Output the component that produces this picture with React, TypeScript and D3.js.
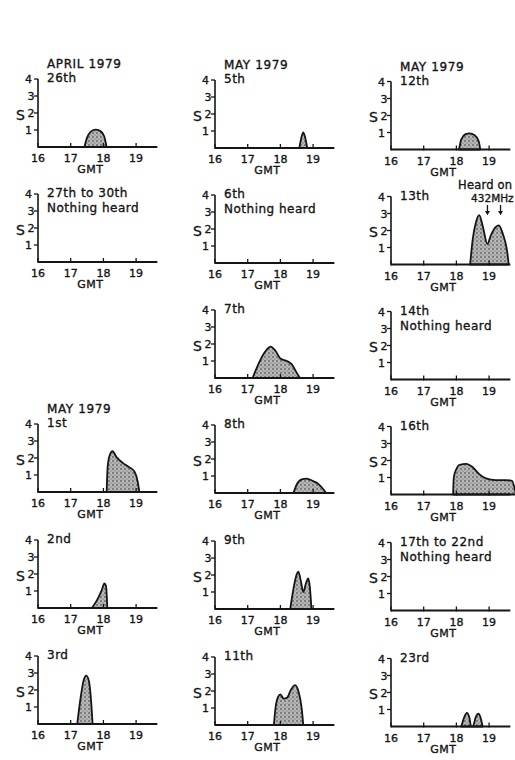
import React from "react";
import * as d3 from "d3";

// ---- data: S-meter readings (hour GMT, S units) ----
const hourTicks = [16, 17, 18, 19];
const sTicks = [1, 2, 3, 4];

const apr26: [number, number][] = [[17.42,0],[17.5,0.55],[17.6,0.88],[17.75,1.02],[17.9,0.95],[18.02,0.65],[18.1,0]];
const may01: [number, number][] = [[18.1,0],[18.13,1.5],[18.2,2.2],[18.28,2.4],[18.4,2.05],[18.6,1.7],[18.8,1.45],[18.95,1.2],[19.05,0.6],[19.1,0]];
const may02: [number, number][] = [[17.65,0],[17.8,0.45],[17.95,1.05],[18.03,1.45],[18.08,1.3],[18.12,0]];
const may03: [number, number][] = [[17.2,0],[17.3,1.5],[17.4,2.6],[17.48,2.85],[17.56,2.5],[17.63,1.2],[17.67,0]];
const may05: [number, number][] = [[18.58,0],[18.64,0.6],[18.7,0.92],[18.76,0.6],[18.82,0]];
const may07: [number, number][] = [[17.15,0],[17.3,0.7],[17.5,1.45],[17.7,1.85],[17.85,1.6],[18.0,1.15],[18.2,1.0],[18.35,0.8],[18.5,0.3],[18.6,0]];
const may08: [number, number][] = [[18.4,0],[18.5,0.5],[18.65,0.8],[18.8,0.85],[19.0,0.7],[19.15,0.55],[19.3,0.25],[19.4,0]];
const may09: [number, number][] = [[18.3,0],[18.4,1.2],[18.5,2.05],[18.55,2.2],[18.62,1.7],[18.7,1.0],[18.78,1.5],[18.85,1.8],[18.9,1.3],[18.95,0]];
const may11: [number, number][] = [[17.8,0],[17.85,1.0],[17.93,1.65],[18.0,1.8],[18.1,1.55],[18.2,1.6],[18.33,2.1],[18.45,2.35],[18.55,2.0],[18.65,1.0],[18.7,0]];
const may12: [number, number][] = [[18.08,0],[18.15,0.6],[18.28,0.9],[18.4,0.95],[18.55,0.85],[18.68,0.5],[18.73,0]];
const may13: [number, number][] = [[18.42,0],[18.5,1.5],[18.6,2.5],[18.7,2.9],[18.8,2.3],[18.95,1.2],[19.05,1.7],[19.2,2.2],[19.3,2.3],[19.42,1.8],[19.55,0.8],[19.6,0]];
const may16: [number, number][] = [[17.9,0],[17.92,1.0],[18.0,1.5],[18.1,1.75],[18.3,1.8],[18.5,1.6],[18.7,1.2],[18.9,0.95],[19.2,0.85],[19.5,0.85],[19.7,0.8],[19.82,0]];
const may23: [number, number][] = [[18.15,0],[18.25,0.6],[18.32,0.8],[18.4,0.5],[18.45,0],[18.5,0],[18.6,0.6],[18.67,0.75],[18.75,0.45],[18.8,0]];

const arrowHours = [18.95, 19.35];

type Panel = { col: number; row: number; header?: string; day: string; note?: string; data?: [number, number][]; extra?: boolean };

const panels: Panel[] = [
  { col: 0, row: 0, header: "APRIL 1979", day: "26th", data: apr26 },
  { col: 0, row: 1, day: "27th to 30th", note: "Nothing heard" },
  { col: 0, row: 3, header: "MAY 1979", day: "1st", data: may01 },
  { col: 0, row: 4, day: "2nd", data: may02 },
  { col: 0, row: 5, day: "3rd", data: may03 },
  { col: 1, row: 0, header: "MAY 1979", day: "5th", data: may05 },
  { col: 1, row: 1, day: "6th", note: "Nothing heard" },
  { col: 1, row: 2, day: "7th", data: may07 },
  { col: 1, row: 3, day: "8th", data: may08 },
  { col: 1, row: 4, day: "9th", data: may09 },
  { col: 1, row: 5, day: "11th", data: may11 },
  { col: 2, row: 0, header: "MAY 1979", day: "12th", data: may12 },
  { col: 2, row: 1, day: "13th", data: may13, extra: true },
  { col: 2, row: 2, day: "14th", note: "Nothing heard" },
  { col: 2, row: 3, day: "16th", data: may16 },
  { col: 2, row: 4, day: "17th to 22nd", note: "Nothing heard" },
  { col: 2, row: 5, day: "23rd", data: may23 },
];

// ---- layout ----
const colX = [38, 215, 391];
const colDy = [-1, 0, 1.5];
const rowY = [148, 263, 378, 493, 609, 725];
const pxPerHour = 32.7;
const xMax = 19.65;
const plotH = 68;
const ink = "#151515";
const font = "'DejaVu Sans', sans-serif";
const heavy = { stroke: ink, strokeWidth: 0.35 };

function PanelView({ p }: { p: Panel }) {
  const ox = colX[p.col];
  const base = rowY[p.row] + colDy[p.col];
  const x = d3.scaleLinear().domain([16, xMax]).range([ox, ox + (xMax - 16) * pxPerHour]);
  const y = d3.scaleLinear().domain([0, 4]).range([base, base - plotH]);
  const area = d3
    .area<[number, number]>()
    .x((d) => x(d[0]))
    .y0(y(0))
    .y1((d) => y(d[1]))
    .curve(d3.curveMonotoneX);
  const top = y(4);
  const tx = ox + 9;
  return (
    <g>
      {p.data && (
        <path d={area(p.data) || ""} fill="url(#stip)" stroke={ink} strokeWidth={1.8} strokeLinejoin="round" />
      )}
      {/* y axis */}
      <line x1={ox} x2={ox} y1={base} y2={top} stroke={ink} strokeWidth={1.6} />
      {sTicks.map((t) => (
        <g key={t}>
          <line x1={ox - 4} x2={ox} y1={y(t)} y2={y(t)} stroke={ink} strokeWidth={1.3} />
          <text
            x={t === 2 || t === 3 ? ox - 3.5 : ox - 6}
            y={y(t) + 4}
            textAnchor="end"
            fontSize={11}
            fontFamily={font}
            fill={ink}
            {...heavy}
          >
            {t}
          </text>
        </g>
      ))}
      <text x={ox - 13} y={y(1.5) - 2} textAnchor="end" fontSize={14} fontFamily={font} fill={ink} {...heavy}>
        S
      </text>
      {/* x axis */}
      <line x1={ox} x2={x(xMax)} y1={base} y2={base} stroke={ink} strokeWidth={2} />
      {hourTicks.map((h) => (
        <g key={h}>
          <line x1={x(h)} x2={x(h)} y1={base + 1} y2={base - 4} stroke={ink} strokeWidth={1.3} />
          <text x={x(h)} y={base + 15} textAnchor="middle" fontSize={11} fontFamily={font} fill={ink} {...heavy}>
            {h}
          </text>
        </g>
      ))}
      <text x={x(17.6)} y={base + 26} textAnchor="middle" fontSize={11} fontFamily={font} fill={ink} letterSpacing={0.5} {...heavy}>
        GMT
      </text>
      {/* titles */}
      {p.header && (
        <text x={tx} y={top - 11} fontSize={12} fontFamily={font} fill={ink} letterSpacing={0.6} {...heavy}>
          {p.header}
        </text>
      )}
      <text x={tx} y={top + 3} fontSize={12} fontFamily={font} fill={ink} letterSpacing={0.5} {...heavy}>
        {p.day}
      </text>
      {p.note && (
        <text x={tx} y={top + 18} fontSize={12} fontFamily={font} fill={ink} letterSpacing={0.5} {...heavy}>
          {p.note}
        </text>
      )}
      {p.extra && (
        <g>
          <text x={x(18.05)} y={y(4.45)} fontSize={11.5} fontFamily={font} fill={ink} letterSpacing={0.2} {...heavy}>
            Heard on
          </text>
          <text x={x(18.45)} y={y(3.68)} fontSize={10.5} fontFamily={font} fill={ink} {...heavy}>
            432MHz
          </text>
          {arrowHours.map((h) => (
            <g key={h}>
              <line x1={x(h)} x2={x(h)} y1={y(3.5)} y2={y(3.1)} stroke={ink} strokeWidth={1.3} />
              <path
                d={`M${x(h) - 2.5},${y(3.15)} L${x(h) + 2.5},${y(3.15)} L${x(h)},${y(2.9)} Z`}
                fill={ink}
              />
            </g>
          ))}
        </g>
      )}
    </g>
  );
}

export default function App() {
  return (
    <svg
      width={515}
      height={760}
      style={{ position: "absolute", left: 0, top: 0, background: "#fff" }}
    >
      <defs>
        <pattern id="stip" width={4} height={4} patternUnits="userSpaceOnUse">
          <rect width={4} height={4} fill="#b4b4b4" />
          <circle cx={1} cy={1} r={0.8} fill="#3a3a3a" />
          <circle cx={3} cy={3} r={0.6} fill="#666" />
          <circle cx={3} cy={1} r={0.4} fill="#eee" />
        </pattern>
      </defs>
      <rect width={515} height={760} fill="#fff" />
      {panels.map((p, i) => (
        <PanelView key={i} p={p} />
      ))}
    </svg>
  );
}
